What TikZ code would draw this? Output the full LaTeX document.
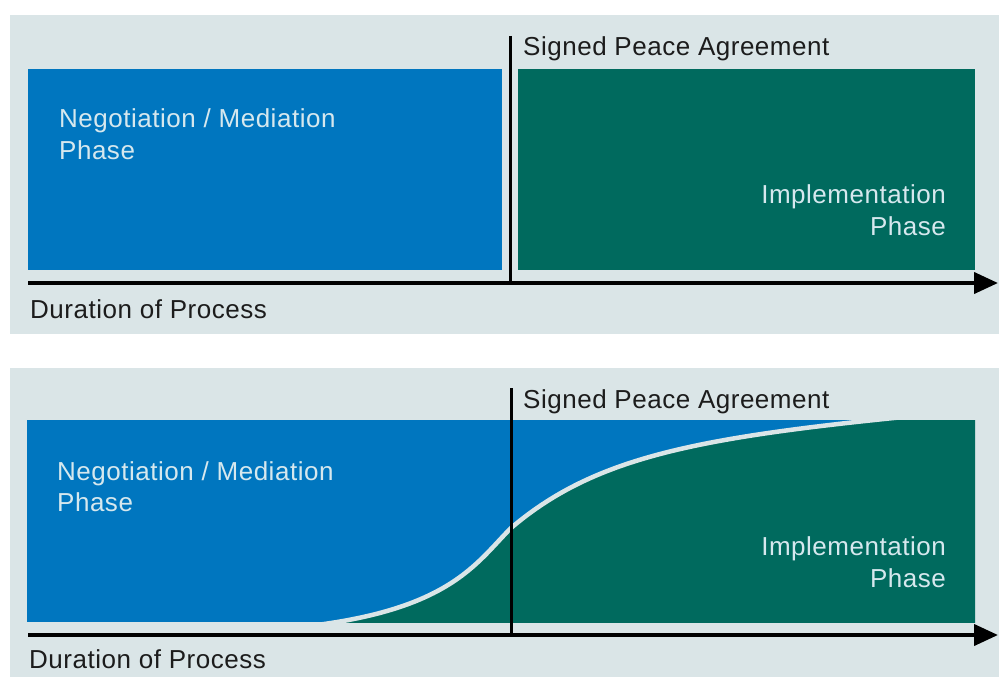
\documentclass[tikz,border=0pt]{standalone}
\usepackage{fontspec}
\setmainfont{Liberation Sans}[LetterSpace=2]
\usetikzlibrary{arrows.meta}
\definecolor{panelbg}{RGB}{218,229,231}
\definecolor{phaseblue}{RGB}{0,118,191}
\definecolor{phasegreen}{RGB}{0,106,94}
\definecolor{inktext}{RGB}{28,28,28}
\definecolor{boxtext}{RGB}{214,232,238}
\begin{document}
\begin{tikzpicture}[x=1pt,y=-1pt,
  lbl/.style={inner sep=0pt,font=\fontsize{26}{31}\selectfont},
  darklbl/.style={lbl,text=inktext,anchor=base west},
  boxlbl/.style={lbl,text=boxtext,anchor=base west},
  boxlblr/.style={lbl,text=boxtext,anchor=base east},
  axisline/.style={line width=4pt,-{Triangle[length=24pt,width=21pt]}},
  marker/.style={line width=3pt},
  band/.style={panelbg,line width=4.5pt},
]
\useasboundingbox (0,0) rectangle (999,677);

% ---------- upper panel: two separate phases ----------
\fill[panelbg] (10,15) rectangle (999,334);
\fill[phaseblue]  (28,69)  rectangle (502,270);
\fill[phasegreen] (518,69) rectangle (975,270);

\node[boxlbl] (negA1) at (59,128) {Negotiation / Mediation};
\node[boxlbl] (negA2) at (59,159) {Phase};
\node[boxlblr] (impA1) at (946,203) {Implementation};
\node[boxlblr] (impA2) at (946,235) {Phase};

\coordinate (axAs) at (28,283);
\coordinate (axAe) at (998,283);
\coordinate (mkAt) at (510,36);
\coordinate (mkAb) at (510,283);
\draw[marker] (mkAt) -- (mkAb);
\draw[axisline] (axAs) -- (axAe);
\node[darklbl] (spaA) at (523,56) {Signed Peace Agreement};
\node[darklbl] (durA) at (30,318) {Duration of Process};

% ---------- lower panel: overlapping phases ----------
\fill[panelbg] (10,368) rectangle (999,677);
\coordinate (cvS) at (300,627);
\coordinate (cvM) at (511,528);
\coordinate (cvE) at (965,411);
\begin{scope}
  \clip (27,420) rectangle (975,622);
  \fill[phaseblue] (27,420) rectangle (975,622);
  \fill[phasegreen] (cvS) .. controls (450,611) and (476,563) .. (cvM)
    .. controls (601,451.5) and (712,435) .. (cvE)
    -- (990,405) -- (990,640) -- (290,640) -- cycle;
  \draw[band] (cvS) .. controls (450,611) and (476,563) .. (cvM)
    .. controls (601,451.5) and (712,435) .. (cvE);
\end{scope}

\node[boxlbl] (negB1) at (57,480) {Negotiation / Mediation};
\node[boxlbl] (negB2) at (57,511) {Phase};
\node[boxlblr] (impB1) at (946,555) {Implementation};
\node[boxlblr] (impB2) at (946,587) {Phase};

\coordinate (axBs) at (28,635);
\coordinate (axBe) at (998,635);
\coordinate (mkBt) at (511,388);
\coordinate (mkBb) at (511,635);
\draw[marker] (mkBt) -- (mkBb);
\draw[axisline] (axBs) -- (axBe);
\node[darklbl] (spaB) at (523,408) {Signed Peace Agreement};
\node[darklbl] (durB) at (29,668) {Duration of Process};
\end{tikzpicture}
\end{document}
